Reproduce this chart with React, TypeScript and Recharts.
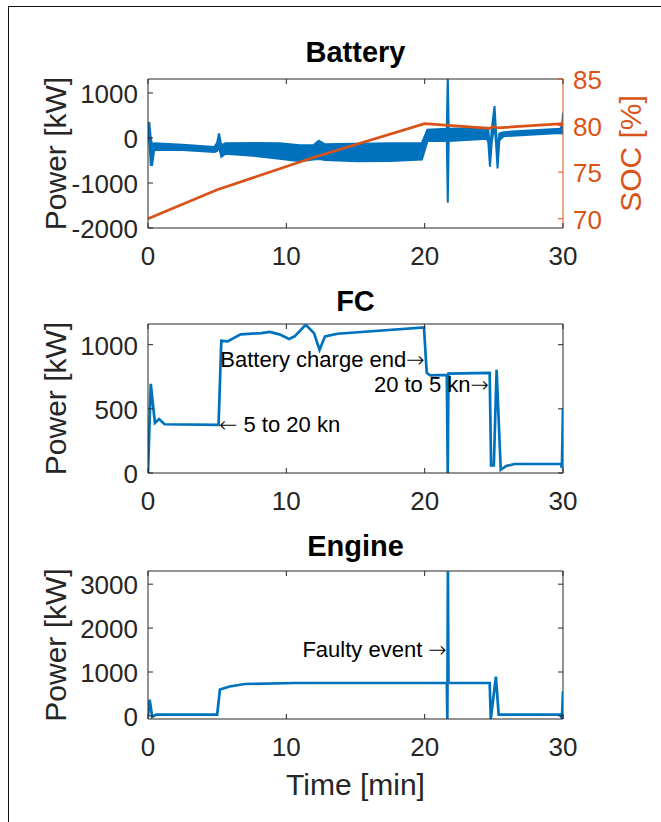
import React from "react";
import {
  ComposedChart,
  LineChart,
  Line,
  Area,
  XAxis,
  YAxis,
  ReferenceLine,
  ReferenceDot,
} from "recharts";

const BLUE = "#0072BD";
const ORANGE = "#D95319";
const AX = "#262626";
const FONT = '"Liberation Sans", Arial, Helvetica, sans-serif';
const ARROW_FONT = '"DejaVu Sans", sans-serif';
const PLOT_W = 415;

// ticks
const timeTicks = [0, 10, 20, 30];
const batteryTicks = [-2000, -1000, 0, 1000];
const socTicks = [70, 75, 80, 85];
const fcTicks = [0, 500, 1000];
const engineTicks = [0, 1000, 2000, 3000];

// battery power: oscillating band, read as low/high envelope [kW]
const batteryTime = [
  0, 0.1, 0.2, 0.3, 0.45, 2.5, 4.8, 5.0, 5.13, 5.3, 5.6, 7.9, 9.5, 11.0,
  11.95, 12.35, 12.8, 15.1, 17.5, 19.8, 20.2, 21.6, 21.67, 21.74, 24.5, 24.6,
  24.72, 24.85, 25.05, 25.15, 25.27, 25.4, 25.7, 29.8, 29.95, 30,
];
const batteryLow = [
  100, -100, -600, -600, -260, -270, -310, -290, -200, -420, -350, -405, -460,
  -515, -480, -470, -490, -515, -510, -480, -70, -70, -1440, -70, -20, -100,
  -640, -100, 300, -100, -675, -50, 40, 110, 100, 450,
];
const batteryHigh = [
  330, 330, 0, -150, -120, -150, -200, -100, 100, -160, -120, -110, -115,
  -160, -160, -60, -140, -130, -120, -110, 185, 205, 1400, 205, 225, 200,
  -300, 200, 710, 200, -300, 100, 130, 205, 300, 563,
];

// state of charge [%]
const socTime = [0, 5, 12, 20, 24.7, 25.0, 25.25, 30];
const socValues = [70, 73.1, 76.6, 80.2, 79.7, 79.9, 79.75, 80.2];

// fuel cell power [kW]
const fcTime = [
  0, 0.2, 0.5, 0.8, 1.2, 5.1, 5.3, 5.75, 6.7, 8.2, 8.8, 9.5, 10.2, 10.6, 11.4,
  12.0, 12.4, 12.8, 13.7, 19.95, 20.15, 20.4, 21.6, 21.67, 21.72, 24.7, 24.8,
  25.0, 25.2, 25.5, 25.9, 26.5, 29.85, 29.92, 30,
];
const fcPower = [
  0, 695, 390, 420, 380, 375, 1030, 1025, 1080, 1090, 1100, 1080, 1045, 1065,
  1155, 1090, 960, 1065, 1085, 1135, 780, 760, 765, 0, 775, 780, 60, 60, 805,
  25, 55, 70, 70, 40, 500,
];

// engine power [kW]
const engineTime = [
  0, 0.12, 0.3, 0.6, 5.0, 5.2, 5.9, 7.0, 10.6, 21.6, 21.64, 21.68, 21.72, 24.7,
  24.78, 25.15, 25.35, 29.85, 29.92, 30,
];
const enginePower = [
  0, 370, -20, 30, 30, 600, 670, 727, 750, 750, -70, 3400, 750, 750, -70, 893,
  30, 30, -70, 560,
];

// annotations (time, value, text, arrow side)
const fcNotes = [
  { t: 20, v: 883, text: "Battery charge end", arrow: "right" },
  { t: 24.65, v: 688, text: "20 to 5 kn", arrow: "right" },
  { t: 5.13, v: 375, text: " 5 to 20 kn", arrow: "left" },
];
const engineNotes = [{ t: 21.6, v: 1490, text: "Faulty event ", arrow: "right" }];

const batteryRows = batteryTime.map((t, i) => ({
  t,
  band: [batteryLow[i], batteryHigh[i]],
}));
const socRows = socTime.map((t, i) => ({ t, soc: socValues[i] }));
const fcRows = fcTime.map((t, i) => ({ t, p: fcPower[i] }));
const engineRows = engineTime.map((t, i) => ({ t, p: enginePower[i] }));

const bottomTick = (plotH: number) => (props: any) => {
  const { x, y, payload } = props;
  return (
    <g>
      <line x1={x} y1={y} x2={x} y2={y - 5} stroke={AX} />
      <line x1={x} y1={y - plotH} x2={x} y2={y - plotH + 5} stroke={AX} />
      <text
        x={x}
        y={y + 37}
        textAnchor="middle"
        fontSize={26}
        fill={AX}
        fontFamily={FONT}
      >
        {payload.value}
      </text>
    </g>
  );
};

const leftTick = (mirror: boolean) => (props: any) => {
  const { x, y, payload } = props;
  return (
    <g>
      <line x1={x} y1={y} x2={x + 5} y2={y} stroke={AX} />
      {mirror && (
        <line
          x1={x + PLOT_W}
          y1={y}
          x2={x + PLOT_W - 5}
          y2={y}
          stroke={AX}
        />
      )}
      <text
        x={x - 10}
        y={y + 10}
        textAnchor="end"
        fontSize={26}
        fill={AX}
        fontFamily={FONT}
      >
        {payload.value}
      </text>
    </g>
  );
};

const rightTick = (props: any) => {
  const { x, y, payload } = props;
  return (
    <g>
      <line x1={x} y1={y} x2={x - 5} y2={y} stroke={ORANGE} />
      <text
        x={x + 10}
        y={y + 10}
        textAnchor="start"
        fontSize={26}
        fill={ORANGE}
        fontFamily={FONT}
      >
        {payload.value}
      </text>
    </g>
  );
};

const powerLabel = (props: any) => {
  const vb = props.viewBox;
  const cy = vb.y + vb.height / 2;
  return (
    <text
      x={66}
      y={cy}
      transform={`rotate(-90, 66, ${cy})`}
      textAnchor="middle"
      fontSize={30}
      fill={AX}
      fontFamily={FONT}
    >
      Power [kW]
    </text>
  );
};

const socLabel = (props: any) => {
  const vb = props.viewBox;
  const cy = vb.y + vb.height / 2;
  return (
    <text
      x={641}
      y={cy}
      transform={`rotate(-90, 641, ${cy})`}
      textAnchor="middle"
      fontSize={30}
      fill={ORANGE}
      fontFamily={FONT}
    >
      SOC [%]
    </text>
  );
};

const timeLabel = (props: any) => {
  const vb = props.viewBox;
  return (
    <text
      x={vb.x + vb.width / 2}
      y={vb.y + 76}
      textAnchor="middle"
      fontSize={30}
      fill={AX}
      fontFamily={FONT}
    >
      Time [min]
    </text>
  );
};

const noteLabel = (text: string, arrow: string) => (props: any) => {
  const vb = props.viewBox;
  const cx = vb.x + vb.width / 2;
  const cy = vb.y + vb.height / 2;
  const right = arrow === "right";
  return (
    <text
      x={cx}
      y={cy + 7}
      textAnchor={right ? "end" : "start"}
      fontSize={22}
      fill="#000"
      fontFamily={FONT}
    >
      {!right && <tspan fontFamily={ARROW_FONT} fontWeight={200}>{"\u2190"}</tspan>}
      {text}
      {right && <tspan fontFamily={ARROW_FONT} fontWeight={200}>{"\u2192"}</tspan>}
    </text>
  );
};

function Title({ text, top }: { text: string; top: number }) {
  return (
    <div
      style={{
        position: "absolute",
        left: 148,
        width: PLOT_W,
        top,
        textAlign: "center",
        fontFamily: FONT,
        fontWeight: "bold",
        fontSize: 29,
        lineHeight: "29px",
        color: "#000",
      }}
    >
      {text}
    </div>
  );
}

function BatteryChart() {
  return (
    <div style={{ position: "absolute", left: 0, top: 0 }}>
      <ComposedChart
        width={661}
        height={270}
        margin={{ top: 79, right: 0, bottom: 0, left: 0 }}
      >
        <XAxis
          dataKey="t"
          type="number"
          domain={[0, 30]}
          ticks={timeTicks}
          interval={0}
          allowDataOverflow
          height={42}
          tickSize={0}
          tickMargin={0}
          tickLine={false}
          axisLine={{ stroke: AX }}
          tick={bottomTick(149)}
        />
        <YAxis
          yAxisId="p"
          domain={[-2000, 1310]}
          ticks={batteryTicks}
          interval={0}
          allowDataOverflow
          width={148}
          tickSize={0}
          tickMargin={0}
          tickLine={false}
          axisLine={{ stroke: AX }}
          tick={leftTick(false)}
          label={powerLabel}
        />
        <YAxis
          yAxisId="soc"
          orientation="right"
          domain={[69, 85]}
          ticks={socTicks}
          interval={0}
          allowDataOverflow
          width={98}
          tickSize={0}
          tickMargin={0}
          tickLine={false}
          axisLine={{ stroke: ORANGE }}
          tick={rightTick}
          label={socLabel}
        />
        <ReferenceLine yAxisId="p" y={1310} stroke={AX} />
        <Area
          yAxisId="p"
          data={batteryRows}
          dataKey="band"
          type="linear"
          stroke={BLUE}
          strokeWidth={2}
          fill={BLUE}
          fillOpacity={1}
          dot={false}
          activeDot={false}
          isAnimationActive={false}
        />
        <Line
          yAxisId="soc"
          data={socRows}
          dataKey="soc"
          type="linear"
          stroke={ORANGE}
          strokeWidth={2.7}
          dot={false}
          activeDot={false}
          isAnimationActive={false}
        />
      </ComposedChart>
    </div>
  );
}

function PowerChart({
  rows,
  top,
  height,
  marginTop,
  xHeight,
  yMin,
  yMax,
  yTicks,
  notes,
  withTimeLabel,
}: any) {
  const plotH = height - marginTop - xHeight;
  return (
    <div style={{ position: "absolute", left: 0, top }}>
      <LineChart
        width={661}
        height={height}
        data={rows}
        margin={{ top: marginTop, right: 98, bottom: 0, left: 0 }}
      >
        <XAxis
          dataKey="t"
          type="number"
          domain={[0, 30]}
          ticks={timeTicks}
          interval={0}
          allowDataOverflow
          height={xHeight}
          tickSize={0}
          tickMargin={0}
          tickLine={false}
          axisLine={{ stroke: AX }}
          tick={bottomTick(plotH)}
          label={withTimeLabel ? timeLabel : undefined}
        />
        <YAxis
          domain={[yMin, yMax]}
          ticks={yTicks}
          interval={0}
          allowDataOverflow
          width={148}
          tickSize={0}
          tickMargin={0}
          tickLine={false}
          axisLine={{ stroke: AX }}
          tick={leftTick(true)}
          label={powerLabel}
        />
        <ReferenceLine y={yMax} stroke={AX} />
        <ReferenceLine x={30} stroke={AX} />
        <Line
          dataKey="p"
          type="linear"
          stroke={BLUE}
          strokeWidth={2.7}
          dot={false}
          activeDot={false}
          isAnimationActive={false}
        />
        {notes.map((n: any) => (
          <ReferenceDot
            key={n.text}
            x={n.t}
            y={n.v}
            r={1}
            fill="none"
            stroke="none"
            label={noteLabel(n.text, n.arrow)}
          />
        ))}
      </LineChart>
    </div>
  );
}

export default function App() {
  return (
    <div
      style={{
        position: "absolute",
        left: 0,
        top: 0,
        width: 661,
        height: 822,
        background: "#fff",
        overflow: "hidden",
      }}
    >
      <div
        style={{
          position: "absolute",
          left: 8,
          top: 6,
          width: 660,
          height: 820,
          borderLeft: "1.5px solid #111",
          borderTop: "1.5px solid #111",
        }}
      />
      <Title text="Battery" top={38} />
      <BatteryChart />
      <Title text="FC" top={287} />
      <PowerChart
        rows={fcRows}
        top={280}
        height={250}
        marginTop={44}
        xHeight={57}
        yMin={0}
        yMax={1161}
        yTicks={fcTicks}
        notes={fcNotes}
        withTimeLabel={false}
      />
      <Title text="Engine" top={532} />
      <PowerChart
        rows={engineRows}
        top={520}
        height={302}
        marginTop={51}
        xHeight={103}
        yMin={-70}
        yMax={3300}
        yTicks={engineTicks}
        notes={engineNotes}
        withTimeLabel={true}
      />
    </div>
  );
}
